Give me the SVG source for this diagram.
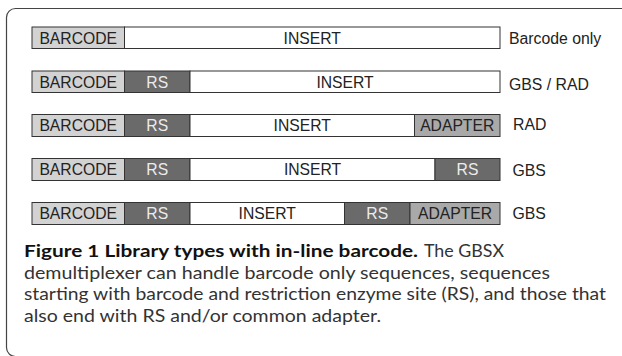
<svg xmlns="http://www.w3.org/2000/svg" width="622" height="356" viewBox="0 0 622 356">
<style>
.bar{stroke:#333;stroke-width:1}
.bc{fill:#d2d2d2}
.rs{fill:#6a6a6a}
.ad{fill:#a9a9a9}
.in{fill:#fff}
.t{font-family:"Liberation Sans",Arial,sans-serif;font-size:15.7px;fill:#222;text-anchor:middle}
.tw{font-family:"Liberation Sans",Arial,sans-serif;font-size:15.7px;fill:#ececec;text-anchor:middle}
.lb{font-family:"Liberation Sans",Arial,sans-serif;font-size:15.8px;fill:#222}
.cap{font-family:Lato,"Open Sans",sans-serif;font-size:17.5px;fill:#333}
.capb{font-family:Lato,"Open Sans",sans-serif;font-size:17.5px;font-weight:bold;fill:#111}
</style>
<rect x="6.5" y="8.5" width="660" height="348" rx="9" fill="#fff" stroke="#444" stroke-width="1.2"/>
<g id="row1">
<rect class="bar bc" x="32" y="27" width="92.5" height="21.5"/>
<rect class="bar in" x="124.5" y="27" width="375.5" height="21.5"/>
<text class="t" x="78.2" y="43.5">BARCODE</text>
<text class="t" x="312.2" y="43.5">INSERT</text>
<text class="lb" x="509" y="43.8">Barcode only</text>
</g>
<g id="row2">
<rect class="bar bc" x="32" y="71" width="92.5" height="21.5"/>
<rect class="bar rs" x="124.5" y="71" width="65.5" height="21.5"/>
<rect class="bar in" x="190" y="71" width="310" height="21.5"/>
<text class="t" x="78.2" y="87.5">BARCODE</text>
<text class="tw" x="157.2" y="87.5">RS</text>
<text class="t" x="345" y="87.5">INSERT</text>
<text class="lb" x="509" y="89.5">GBS / RAD</text>
</g>
<g id="row3">
<rect class="bar bc" x="32" y="114.5" width="92.5" height="22"/>
<rect class="bar rs" x="124.5" y="114.5" width="65.5" height="22"/>
<rect class="bar in" x="190" y="114.5" width="224.5" height="22"/>
<rect class="bar ad" x="414.5" y="114.5" width="85.5" height="22"/>
<text class="t" x="78.2" y="131">BARCODE</text>
<text class="tw" x="157.2" y="131">RS</text>
<text class="t" x="302.2" y="131">INSERT</text>
<text class="t" x="457.2" y="131">ADAPTER</text>
<text class="lb" x="513" y="130">RAD</text>
</g>
<g id="row4">
<rect class="bar bc" x="32" y="158.5" width="92.5" height="22"/>
<rect class="bar rs" x="124.5" y="158.5" width="65.5" height="22"/>
<rect class="bar in" x="190" y="158.5" width="245" height="22"/>
<rect class="bar rs" x="435" y="158.5" width="65" height="22"/>
<text class="t" x="78.2" y="175">BARCODE</text>
<text class="tw" x="157.2" y="175">RS</text>
<text class="t" x="312.5" y="175">INSERT</text>
<text class="tw" x="467.5" y="175">RS</text>
<text class="lb" x="512.5" y="176">GBS</text>
</g>
<g id="row5">
<rect class="bar bc" x="32" y="202.5" width="92.5" height="22"/>
<rect class="bar rs" x="124.5" y="202.5" width="65.5" height="22"/>
<rect class="bar in" x="190" y="202.5" width="154.5" height="22"/>
<rect class="bar rs" x="344.5" y="202.5" width="65.5" height="22"/>
<rect class="bar ad" x="410" y="202.5" width="90" height="22"/>
<text class="t" x="78.2" y="219">BARCODE</text>
<text class="tw" x="157.2" y="219">RS</text>
<text class="t" x="267.2" y="219">INSERT</text>
<text class="tw" x="377.2" y="219">RS</text>
<text class="t" x="455" y="219">ADAPTER</text>
<text class="lb" x="512.5" y="218.5">GBS</text>
</g>
<g id="caption">
<text class="capb" x="24" y="257" textLength="394" lengthAdjust="spacingAndGlyphs">Figure 1 Library types with in-line barcode.</text>
<text class="cap" x="424" y="257" textLength="80" lengthAdjust="spacingAndGlyphs">The GBSX</text>
<text class="cap" x="24" y="278.5" textLength="526" lengthAdjust="spacingAndGlyphs">demultiplexer can handle barcode only sequences, sequences</text>
<text class="cap" x="24" y="300" textLength="582" lengthAdjust="spacingAndGlyphs">starting with barcode and restriction enzyme site (RS), and those that</text>
<text class="cap" x="24" y="321.5" textLength="357" lengthAdjust="spacingAndGlyphs">also end with RS and/or common adapter.</text>
</g>
</svg>
